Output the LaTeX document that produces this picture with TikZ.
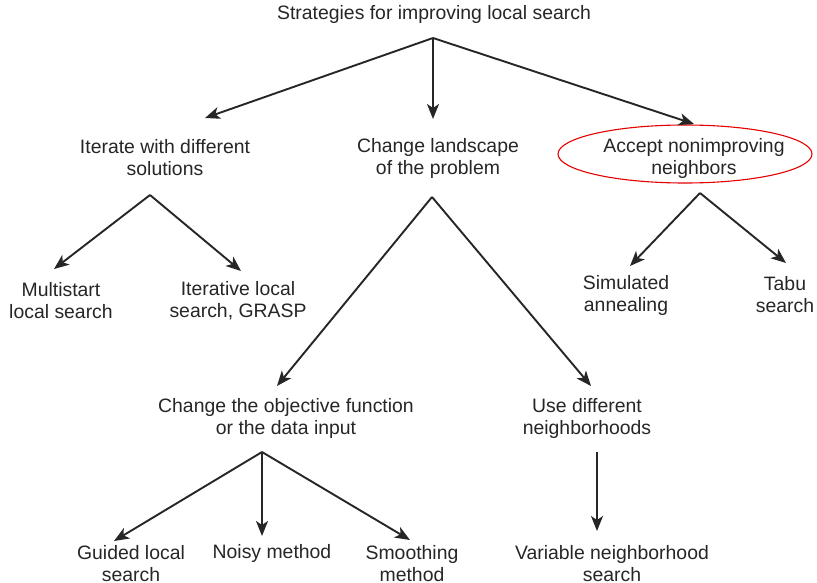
\documentclass[tikz,border=0pt]{standalone}
\usepackage{fontspec}
\setmainfont{Liberation Sans}
\usetikzlibrary{arrows.meta}
\begin{document}
\begin{tikzpicture}[x=1pt,y=-1pt,
  lab/.style={align=center,font=\fontsize{19.4}{22}\selectfont,text=black!85,inner sep=0pt},
  arr/.style={line width=1.9pt,draw=black!85,-{Stealth[length=15pt,width=12pt,inset=4pt]}}]
\useasboundingbox[fill=white] (0,0) rectangle (817,583);
% nodes
\node[lab] (root) at (434,14) {Strategies for improving local search};
\node[lab] (iter) at (165,158) {Iterate with different\\solutions};
\node[lab] (land) at (438,158) {Change landscape\\of the problem};
\node[lab] (acc) at (694,158) {Accept nonimproving\\neighbors};
\draw[red!90!black,line width=1.1pt] (685,154) ellipse (127 and 29);
\node[lab] (multi) at (61,301) {Multistart\\local search};
\node[lab] (ils) at (238,301) {Iterative local\\search, GRASP};
\node[lab] (sa) at (626,295) {Simulated\\annealing};
\node[lab] (tabu) at (785,295) {Tabu\\search};
\node[lab] (obj) at (286,418) {Change the objective function\\or the data input};
\node[lab] (nbh) at (587,418) {Use different\\neighborhoods};
\node[lab] (gls) at (131,564) {Guided local\\search};
\node[lab] (noisy) at (272,553) {Noisy method};
\node[lab] (smooth) at (412,564) {Smoothing\\method};
\node[lab] (vns) at (612,564) {Variable neighborhood\\search};
% junction and end coordinates
\coordinate (rootB) at (433,38);
\coordinate (iterT) at (205,118);
\coordinate (landT) at (433,119);
\coordinate (accT) at (694,124);
\coordinate (iterB) at (150,195);
\coordinate (multiT) at (54,269);
\coordinate (ilsT) at (241,271);
\coordinate (accB) at (700,193);
\coordinate (saT) at (630,266);
\coordinate (tabuT) at (786,263);
\coordinate (landB) at (432,197);
\coordinate (objT) at (277,386);
\coordinate (nbhT) at (591,386);
\coordinate (objB) at (262,452);
\coordinate (glsT) at (114,541);
\coordinate (noisyT) at (262,536);
\coordinate (smoothT) at (410,540);
\coordinate (nbhB) at (597,452);
\coordinate (vnsT) at (597,531);
% connectors
\draw[arr] (rootB) -- (iterT);
\draw[arr] (rootB) -- (landT);
\draw[arr] (rootB) -- (accT);
\draw[arr] (iterB) -- (multiT);
\draw[arr] (iterB) -- (ilsT);
\draw[arr] (accB) -- (saT);
\draw[arr] (accB) -- (tabuT);
\draw[arr] (landB) -- (objT);
\draw[arr] (landB) -- (nbhT);
\draw[arr] (objB) -- (glsT);
\draw[arr] (objB) -- (noisyT);
\draw[arr] (objB) -- (smoothT);
\draw[arr] (nbhB) -- (vnsT);
\end{tikzpicture}
\end{document}
